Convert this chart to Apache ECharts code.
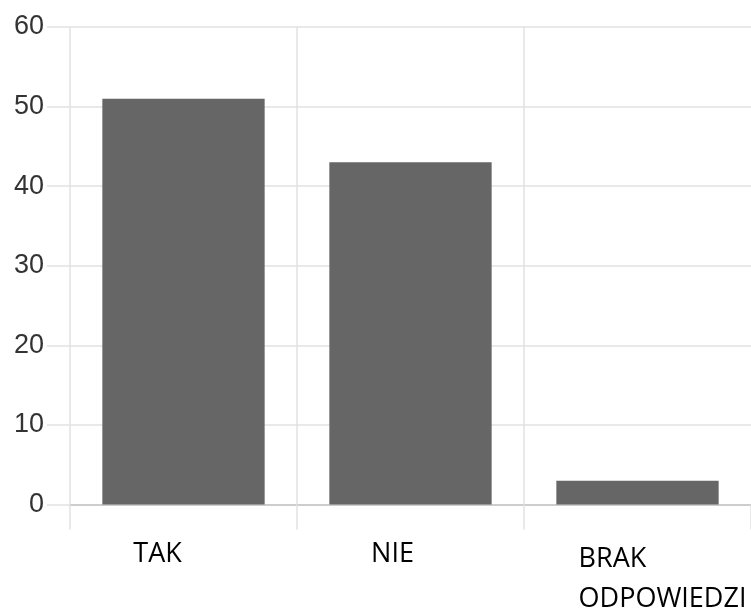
<!DOCTYPE html>
<html><head><meta charset="utf-8">
<script src="https://cdn.jsdelivr.net/npm/echarts@6/dist/echarts.min.js"></script>
<style>html,body{margin:0;padding:0;background:#fff}#c{width:751px;height:613px}</style>
</head><body><div id="c"></div>
<script>
var categories = ['TAK', 'NIE', 'BRAK\nODPOWIEDZI'];
var values = [51, 43, 3];
var yTicks = [0, 10, 20, 30, 40, 50, 60];

var chart = echarts.init(document.getElementById('c'), null, {renderer: 'canvas'});
var labelFont = "'Open Sans', 'Noto Sans', sans-serif";
chart.setOption({
  animation: false,
  grid: {left: 70, right: -2, top: 27, bottom: 108, containLabel: false},
  xAxis: {
    type: 'category',
    data: categories,
    boundaryGap: true,
    axisLine: {show: true, lineStyle: {color: '#c4c4c4', width: 1.5}},
    axisTick: {show: true, length: 25, lineStyle: {color: '#e2e2e2', width: 1.5}},
    splitLine: {show: true, showMinLine: true, showMaxLine: false, lineStyle: {color: '#e2e2e2', width: 1.5}},
    axisLabel: {
      interval: 0,
      margin: 30,
      formatter: function (v, i) { return '{c' + i + '|' + v + '}'; },
      rich: {
        c0: {fontFamily: labelFont, fontSize: 27, color: '#000', padding: [0, 52, 0, 0], lineHeight: 40},
        c1: {fontFamily: labelFont, fontSize: 27, color: '#000', padding: [0, 36, 0, 0], lineHeight: 40},
        c2: {fontFamily: labelFont, fontSize: 27, color: '#000', padding: [10, 0, 0, 50], lineHeight: 40, align: 'left'}
      }
    }
  },
  yAxis: {
    type: 'value',
    min: yTicks[0],
    max: yTicks[yTicks.length - 1],
    interval: 10,
    axisLine: {show: false},
    axisTick: {show: true, length: 23, lineStyle: {color: '#e2e2e2', width: 1.5}},
    splitLine: {show: true, lineStyle: {color: '#e2e2e2', width: 1.5}},
    axisLabel: {margin: 26, fontFamily: "'Liberation Sans', Arial, sans-serif", fontSize: 27, color: '#333'}
  },
  series: [{
    type: 'bar',
    data: values,
    barWidth: '71.5%',
    itemStyle: {color: '#666666'}
  }]
});
</script></body></html>
